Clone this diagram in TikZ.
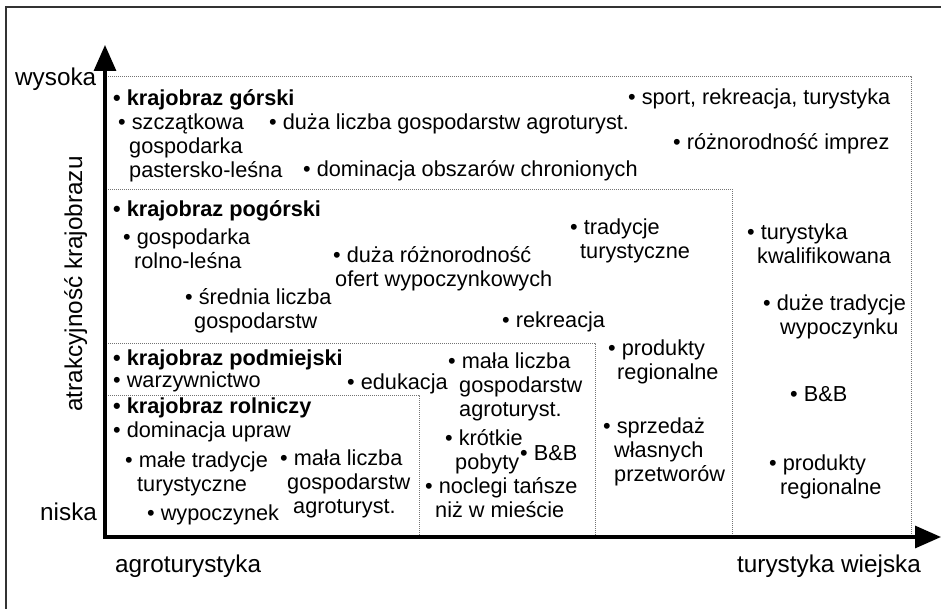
\documentclass[tikz,border=0pt]{standalone}
\usepackage{fontspec}
\setmainfont{Liberation Sans}
\usetikzlibrary{arrows.meta}
\newcommand{\bodyfont}{\fontsize{21.7}{24}\selectfont}
\newcommand{\axfont}{\fontsize{24.3}{27}\selectfont}
\newcommand{\ind}[1]{\hspace*{#1pt}}
\newcommand{\lines}[1]{\begin{tabular}[t]{@{}l@{}}#1\end{tabular}}
\begin{document}
\begin{tikzpicture}[x=1pt,y=-1pt,
  txt/.style={anchor=base west, inner sep=0pt, font=\bodyfont},
  head/.style={txt, font=\bodyfont\bfseries},
  axlab/.style={anchor=base west, inner sep=0pt, font=\axfont},
  zone/.style={draw=black!55, line width=0.9pt, dash pattern=on 1pt off 1pt},
  axis/.style={draw=black, line width=3.2pt, line join=miter, {Triangle[width=22pt,length=26pt]}-{Triangle[width=22pt,length=26pt]}},
  frame/.style={draw=black!80, line width=1.3pt}]
\useasboundingbox (0,0) rectangle (941,609);
% outer frame (cropped)
\draw[frame] (6,620) -- (6,7) -- (950,7);
% zones
\draw[zone] (106,76) -- (911,76) -- (911,537);
\draw[zone] (106,189) -- (732,189) -- (732,537);
\draw[zone] (106,343) -- (595,343) -- (595,537);
\draw[zone] (106,395) -- (419,395) -- (419,537);
% axes
\coordinate (O) at (105,537);
\coordinate (Ytip) at (105,45);
\coordinate (Xtip) at (941,537);
\draw[axis] (Ytip) -- (O) -- (Xtip);
% axis labels
\node[axlab] (wys) at (15,86) {wysoka};
\node[axlab] (nis) at (40,520) {niska};
\node[axlab] (agro) at (115,572) {agroturystyka};
\node[axlab] (turw) at (737,572) {turystyka wiejska};
\node[font=\axfont, inner sep=0pt, rotate=90, anchor=base] (atr) at (82,284) {atrakcyjność krajobrazu};
% krajobraz górski
\node[head] (gor) at (113,106) {• krajobraz górski};
\node[txt] (szcz) at (118,130) {\lines{• szczątkowa\\\ind{11}gospodarka\\\ind{11}pastersko-leśna}};
\node[txt] (dlg) at (269,130) {• duża liczba gospodarstw agroturyst.};
\node[txt] (dom) at (303,177) {• dominacja obszarów chronionych};
\node[txt] (spo) at (628,105) {• sport, rekreacja, turystyka};
\node[txt] (roz) at (673,150) {• różnorodność imprez};
% krajobraz pogórski
\node[head] (pog) at (113,217) {• krajobraz pogórski};
\node[txt] (grl) at (123,245) {\lines{• gospodarka\\\ind{11}rolno-leśna}};
\node[txt] (sre) at (185,305) {\lines{• średnia liczba\\\ind{9}gospodarstw}};
\node[txt] (dro) at (333,263) {\lines{• duża różnorodność\\\ind{2}ofert wypoczynkowych}};
\node[txt] (trt) at (570,235) {\lines{• tradycje\\\ind{10}turystyczne}};
\node[txt] (rek) at (502,327) {• rekreacja};
\node[txt] (tkw) at (747,240) {\lines{• turystyka\\\ind{10}kwalifikowana}};
\node[txt] (dtw) at (763,310) {\lines{• duże tradycje\\\ind{17}wypoczynku}};
% krajobraz podmiejski
\node[head] (pod) at (113,365) {• krajobraz podmiejski};
\node[txt] (war) at (113,387) {• warzywnictwo};
\node[txt] (edu) at (347,389) {• edukacja};
\node[txt] (mlm) at (448,368) {\lines{• mała liczba\\\ind{11}gospodarstw\\\ind{11}agroturyst.}};
\node[txt] (prm) at (608,355) {\lines{• produkty\\\ind{9}regionalne}};
% krajobraz rolniczy
\node[head] (rol) at (113,413) {• krajobraz rolniczy};
\node[txt] (dup) at (113,437) {• dominacja upraw};
\node[txt] (mtt) at (125,467) {\lines{• małe tradycje\\\ind{12}turystyczne}};
\node[txt] (wyp) at (147,520) {• wypoczynek};
\node[txt] (mll) at (280,465) {\lines{• mała liczba\\\ind{7}gospodarstw\\\ind{13}agroturyst.}};
\node[txt] (kpo) at (445,445) {\lines{• krótkie\\\ind{10}pobyty}};
\node[txt] (bbm) at (520,460) {• B\&B};
\node[txt] (noc) at (425,493) {\lines{• noclegi tańsze\\\ind{10}niż w mieście}};
\node[txt] (spr) at (603,433) {\lines{• sprzedaż\\\ind{11}własnych\\\ind{11}przetworów}};
\node[txt] (bbr) at (790,401) {• B\&B};
\node[txt] (prr) at (769,470) {\lines{• produkty\\\ind{11}regionalne}};
\end{tikzpicture}
\end{document}
